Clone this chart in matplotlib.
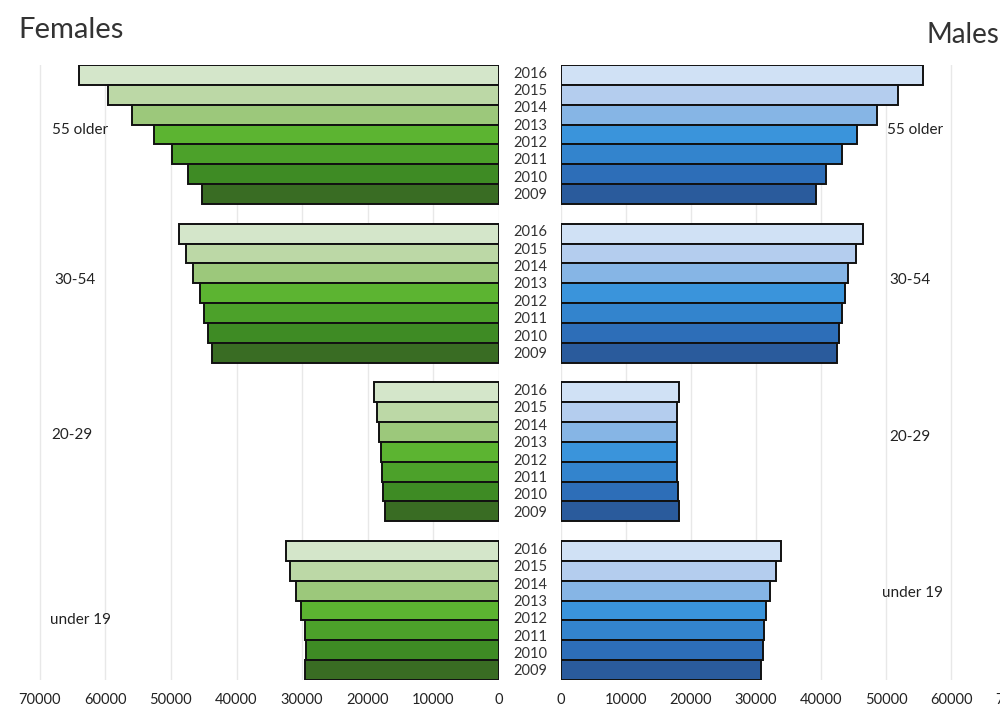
import matplotlib
matplotlib.use('Agg')
from matplotlib import pyplot as plt
from matplotlib import transforms
import numpy as np

years = [2016, 2015, 2014, 2013, 2012, 2011, 2010, 2009]
groups = ['55 older', '30-54', '20-29', 'under 19']

# the source only draws seven bars per age group (top to bottom),
# while eight year labels are spread over the same height
females = [
	[64000, 59600, 55900, 52600, 49800, 47400, 45300],  # 55 older
	[48700, 47700, 46600, 45600, 44900, 44300, 43700],  # 30-54
	[19100, 18600, 18300, 18000, 17800, 17700, 17300],  # 20-29
	[32400, 31900, 31000, 30200, 29600, 29400, 29500],  # under 19
]
males = [
	[55700, 51900, 48600, 45500, 43200, 40800, 39200],
	[46500, 45400, 44100, 43700, 43300, 42700, 42500],
	[18100, 17900, 17800, 17800, 17800, 18000, 18100],
	[33900, 33100, 32200, 31600, 31200, 31000, 30800],
]
ticks = [0, 10000, 20000, 30000, 40000, 50000, 60000, 70000]

greens = ['#d4e6ca', '#bcd8a6', '#9cc87b', '#5cb431', '#4ca12a', '#3e8b24', '#396c23']
blues = ['#d0e1f5', '#b4cdee', '#86b5e5', '#3a94db', '#3384cd', '#2d6eb8', '#2a5b9c']

ROUND = ['Lato', 'DejaVu Sans']


def plotSide(ax, data, colors, xmax, invert):
	step = len(data[0]) + 1
	for g, vals in enumerate(data):
		pos = g * step + np.arange(len(vals)) + 0.5
		ax.barh(pos, vals, height=1.0, color=colors,
			edgecolor='#111111', linewidth=1.4, zorder=3)
	ax.set_ylim(len(data) * step - 1, 0)
	ax.set_xlim(0, xmax)
	if invert:
		ax.invert_xaxis()
	ax.set_xticks(ticks)
	ax.set_xticklabels([str(t) for t in ticks], family=ROUND, fontsize=10.5, color='#222222')
	ax.set_yticks([])
	ax.tick_params(axis='x', length=0, pad=9)
	for s in ax.spines.values():
		s.set_visible(False)
	ax.grid(axis='x', color='#e8e8e8', linewidth=1.0, zorder=0)
	ax.set_axisbelow(True)


fig = plt.figure(figsize=(10, 7.2), dpi=100)
bottom = 1 - 680 / 720.0
height = (680 - 65) / 720.0

axF = fig.add_axes([0.020, bottom, 0.479, height])
axM = fig.add_axes([0.561, bottom, 0.469, height])

plotSide(axF, females, greens, 73000, True)
plotSide(axM, males, blues, 72150, False)

# year labels in the gap between the two halves
trans = transforms.blended_transform_factory(fig.transFigure, axM.transData)
nbars = len(females[0])
for g in range(len(groups)):
	top = g * (nbars + 1)
	for i, y in enumerate(years):
		axM.text(0.530, top + (i + 0.5) * nbars / len(years), str(y), transform=trans,
			ha='center', va='center', family=ROUND, fontsize=10.5, color='#333333',
			clip_on=False)

# age group labels
leftLab = [(0.080, 130), (0.075, 280), (0.072, 435), (0.080, 620)]
rightLab = [(0.915, 130), (0.910, 280), (0.910, 437), (0.912, 593)]
for name, (lx, ly), (rx, ry) in zip(groups, leftLab, rightLab):
	fig.text(lx, 1 - ly / 720.0, name, ha='center', va='center', family=ROUND,
		fontsize=11, color='#222222')
	fig.text(rx, 1 - ry / 720.0, name, ha='center', va='center', family=ROUND,
		fontsize=11, color='#222222')

fig.text(0.018, 1 - 30 / 720.0, 'Females', ha='left', va='center', family=ROUND,
	fontsize=21, color='#333333')
fig.text(0.999, 1 - 35 / 720.0, 'Males', ha='right', va='center', family=ROUND,
	fontsize=20, color='#333333')

plt.savefig('out.png', dpi=100)
